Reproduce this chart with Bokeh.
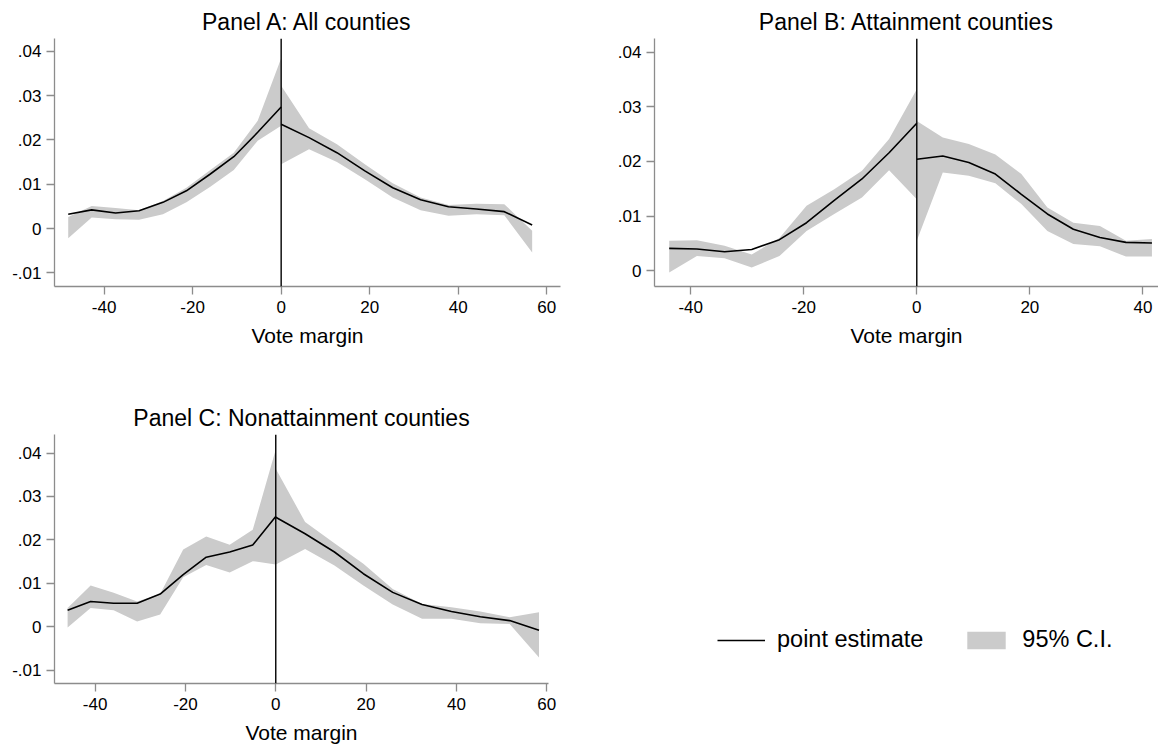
from bokeh.plotting import figure
from bokeh.layouts import row, column
from bokeh.models import Span, FixedTicker, Range1d, Legend, LegendItem
from bokeh.embed import file_html
from bokeh.resources import INLINE

FONT = "Liberation Sans"
BAND = "#cbcbcb"
AXIS = "#8c8c8c"

# ---- Panel A: All counties ----
a_x_left = [-48.1, -42.8, -37.4, -32.1, -26.7, -21.4, -16.0, -10.7, -5.3, 0.0]
a_est_left = [0.0032, 0.0042, 0.0035, 0.0040, 0.0059, 0.0085, 0.0123, 0.0162, 0.0217, 0.0274]
a_lo_left = [-0.0022, 0.0025, 0.0021, 0.0020, 0.0032, 0.0059, 0.0094, 0.0132, 0.0198, 0.0232]
a_hi_left = [0.0026, 0.0051, 0.0046, 0.0041, 0.0062, 0.0092, 0.0132, 0.0171, 0.0243, 0.0384]
a_x_right = [0.0, 6.3, 12.6, 18.9, 25.2, 31.5, 37.8, 44.1, 50.4, 56.7]
a_est_right = [0.0235, 0.0205, 0.0171, 0.0130, 0.0092, 0.0065, 0.0049, 0.0044, 0.0038, 0.0008]
a_lo_right = [0.0145, 0.0179, 0.0150, 0.0111, 0.0070, 0.0041, 0.0029, 0.0032, 0.0030, -0.0054]
a_hi_right = [0.0322, 0.0226, 0.0190, 0.0145, 0.0102, 0.0070, 0.0053, 0.0056, 0.0055, -0.0005]

# ---- Panel B: Attainment counties ----
b_x_left = [-43.8, -38.9, -34.0, -29.2, -24.3, -19.5, -14.6, -9.7, -4.9, 0.0]
b_est_left = [0.0041, 0.0040, 0.0035, 0.0039, 0.0057, 0.0088, 0.0129, 0.0168, 0.0216, 0.0270]
b_lo_left = [-0.0003, 0.0027, 0.0023, 0.0006, 0.0027, 0.0073, 0.0104, 0.0134, 0.0184, 0.0131]
b_hi_left = [0.0055, 0.0056, 0.0046, 0.0030, 0.0060, 0.0119, 0.0149, 0.0183, 0.0241, 0.0332]
b_x_right = [0.0, 4.6, 9.2, 13.9, 18.5, 23.1, 27.7, 32.4, 37.0, 41.6]
b_est_right = [0.0204, 0.0210, 0.0198, 0.0177, 0.0140, 0.0104, 0.0076, 0.0061, 0.0052, 0.0051]
b_lo_right = [0.0055, 0.0180, 0.0174, 0.0160, 0.0122, 0.0073, 0.0049, 0.0045, 0.0026, 0.0026]
b_hi_right = [0.0274, 0.0244, 0.0232, 0.0213, 0.0177, 0.0116, 0.0088, 0.0082, 0.0055, 0.0058]

# ---- Panel C: Nonattainment counties ----
c_x_left = [-46.1, -41.0, -35.9, -30.7, -25.6, -20.5, -15.4, -10.2, -5.1, 0.0]
c_est_left = [0.0038, 0.0058, 0.0054, 0.0054, 0.0075, 0.0120, 0.0160, 0.0172, 0.0188, 0.0254]
c_lo_left = [-0.0002, 0.0043, 0.0038, 0.0012, 0.0028, 0.0114, 0.0142, 0.0125, 0.0151, 0.0143]
c_hi_left = [0.0043, 0.0095, 0.0078, 0.0058, 0.0075, 0.0178, 0.0208, 0.0189, 0.0223, 0.0408]
c_x_right = [0.0, 6.5, 13.0, 19.4, 25.9, 32.4, 38.9, 45.3, 51.8, 58.3]
c_est_right = [0.0252, 0.0214, 0.0172, 0.0122, 0.0079, 0.0051, 0.0035, 0.0023, 0.0014, -0.0008]
c_lo_right = [0.0143, 0.0179, 0.0141, 0.0095, 0.0051, 0.0018, 0.0018, 0.0008, 0.0006, -0.0071]
c_hi_right = [0.0364, 0.0241, 0.0192, 0.0145, 0.0087, 0.0052, 0.0045, 0.0035, 0.0022, 0.0033]

x_ticks = [-40, -20, 0, 20, 40, 60]
x_tick_labels = ["-40", "-20", "0", "20", "40", "60"]
y_ticks = [-0.01, 0.0, 0.01, 0.02, 0.03, 0.04]
y_tick_labels = ["-.01", "0", ".01", ".02", ".03", ".04"]


def panel(title, xl, el, lol, hil, xr, er, lor, hir, x_rng, y_rng,
          width, height, left, right, top, bottom):
    p = figure(width=width, height=height, output_backend="svg",
               toolbar_location=None, x_range=Range1d(*x_rng),
               y_range=Range1d(*y_rng),
               min_border_left=left, min_border_right=right,
               min_border_top=top, min_border_bottom=bottom)
    p.title.text = title
    p.title.align = "center"
    p.title.text_font = FONT
    p.title.text_font_size = "23px"
    p.title.text_font_style = "normal"
    p.title.text_color = "black"
    p.title.standoff = 8
    p.outline_line_color = None
    p.grid.visible = False
    p.background_fill_color = "white"
    p.border_fill_color = "white"

    # confidence bands on each side of the cutoff
    p.varea(x=xl, y1=lol, y2=hil, fill_color=BAND)
    p.varea(x=xr, y1=lor, y2=hir, fill_color=BAND)
    # point estimates
    p.line(x=xl, y=el, line_color="black", line_width=1.6)
    p.line(x=xr, y=er, line_color="black", line_width=1.6)
    # cutoff at zero vote margin
    p.add_layout(Span(location=0, dimension="height", line_color="black",
                      line_width=1.4))

    p.xaxis.ticker = FixedTicker(ticks=x_ticks)
    p.xaxis.major_label_overrides = dict(zip(x_ticks, x_tick_labels))
    p.yaxis.ticker = FixedTicker(ticks=y_ticks)
    p.yaxis.major_label_overrides = dict(zip(y_ticks, y_tick_labels))
    p.xaxis.axis_label = "Vote margin"
    p.xaxis.axis_label_text_font = FONT
    p.xaxis.axis_label_text_font_size = "21px"
    p.xaxis.axis_label_text_font_style = "normal"
    p.xaxis.axis_label_text_color = "black"
    p.xaxis.axis_label_standoff = 8
    for ax in (p.xaxis, p.yaxis):
        ax.axis_line_color = AXIS
        ax.axis_line_width = 1.3
        ax.major_tick_line_color = AXIS
        ax.major_tick_line_width = 1.3
        ax.major_tick_out = 8
        ax.major_tick_in = 0
        ax.minor_tick_line_color = None
        ax.major_label_text_font = FONT
        ax.major_label_text_font_size = "17px"
        ax.major_label_text_color = "black"
    p.xaxis.major_label_standoff = 6
    p.yaxis.major_label_standoff = 5
    p.yaxis.major_label_orientation = "horizontal"
    return p


pa = panel("Panel A: All counties", a_x_left, a_est_left, a_lo_left, a_hi_left,
           a_x_right, a_est_right, a_lo_right, a_hi_right,
           (-51.2, 63.1), (-0.01308, 0.04286),
           580, 390, 54, 20, 38, 104)
pb = panel("Panel B: Attainment counties", b_x_left, b_est_left, b_lo_left, b_hi_left,
           b_x_right, b_est_right, b_lo_right, b_hi_right,
           (-46.4, 42.76), (-0.00287, 0.0425),
           578, 390, 74, 0, 38, 104)
pc = panel("Panel C: Nonattainment counties", c_x_left, c_est_left, c_lo_left, c_hi_left,
           c_x_right, c_est_right, c_lo_right, c_hi_right,
           (-49.0, 60.4), (-0.01309, 0.04427),
           580, 357, 54, 32, 44, 64)

# legend panel: key glyphs sit outside the visible range, only their swatches show
pl = figure(width=578, height=357, output_backend="svg", toolbar_location=None,
            x_range=Range1d(0, 1), y_range=Range1d(0, 1), min_border=0)
pl.axis.visible = False
pl.grid.visible = False
pl.outline_line_color = None
key_line = pl.line(x=[5, 6], y=[5, 6], line_color="black", line_width=1.6)
key_band = pl.varea(x=[5, 6], y1=[5, 5], y2=[6, 6], fill_color=BAND)
legend = Legend(items=[LegendItem(label="point estimate", renderers=[key_line]),
                       LegendItem(label="95% C.I.", renderers=[key_band])],
                orientation="horizontal", location=(137, 30),
                padding=0, margin=0, spacing=39, label_standoff=12,
                glyph_width=48, glyph_height=22,
                label_text_font=FONT, label_text_font_size="23.5px",
                label_text_color="black",
                border_line_color=None, background_fill_alpha=0)
pl.add_layout(legend, "center")

layout = column(row(pa, pb), row(pc, pl))

with open("out.html", "w") as f:
    f.write(file_html(layout, INLINE))
